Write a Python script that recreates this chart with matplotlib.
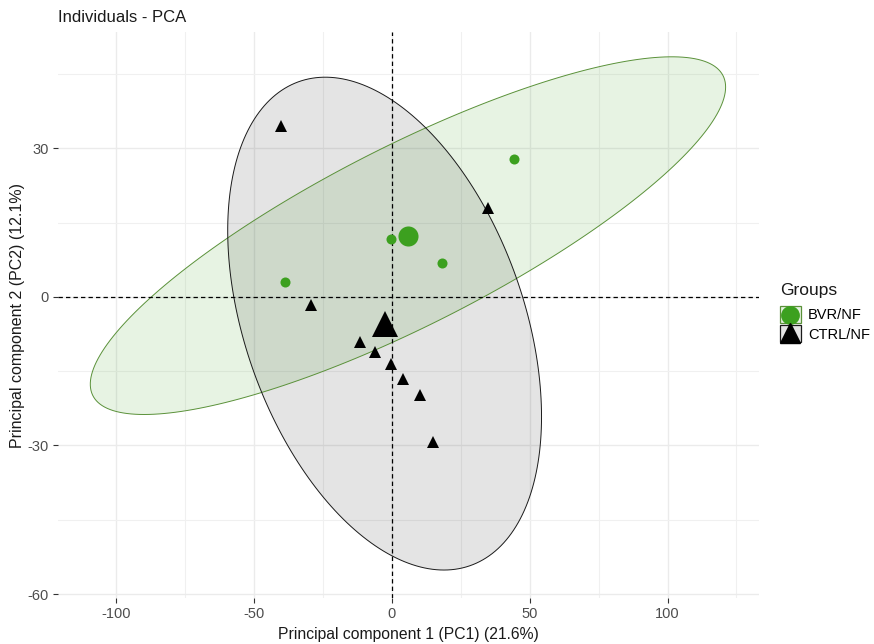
import numpy as np
import matplotlib
matplotlib.use("Agg")
import matplotlib.pyplot as plt
from matplotlib.patches import Polygon, Rectangle
from matplotlib.lines import Line2D
from matplotlib.legend_handler import HandlerBase

plt.rcParams['font.family'] = ['Liberation Sans', 'DejaVu Sans']
plt.rcParams['axes.unicode_minus'] = False

# PCA scores per group
bvr_pc1 = [44.3, -0.4, 18.1, -38.8]
bvr_pc2 = [27.9, 11.7, 6.9, 3.0]
ctrl_pc1 = [-40.3, 34.8, -29.4, -11.6, -6.2, -0.4, 4.0, 10.2, 14.9]
ctrl_pc2 = [34.5, 18.0, -1.6, -9.1, -11.1, -13.5, -16.6, -19.8, -29.3]

groups = ['BVR/NF', 'CTRL/NF']
colors = ['#3ca01f', '#000000']
edge_colors = ['#5a9139', '#1a1a1a']
markers = ['o', '^']
ellipse_scale = [3.3, 2.5]

x_ticks = [-100, -50, 0, 50, 100]
x_minor = [-75, -25, 25, 75, 125]
y_ticks = [-60, -30, 0, 30]
y_minor = [-45, -15, 15, 45]
x_lim = (-121.2, 133.2)
y_lim = (-60.8, 53.5)


def ellipse_points(x, y, scale, n=240):
    x = np.asarray(x); y = np.asarray(y)
    cov = np.cov(np.vstack([x, y]))
    chol = np.linalg.cholesky(cov)
    t = np.linspace(0, 2 * np.pi, n)
    pts = chol @ (np.vstack([np.cos(t), np.sin(t)]) * scale)
    return np.column_stack([pts[0] + x.mean(), pts[1] + y.mean()])


class BoxMarkerHandler(HandlerBase):
    # square key filled like the ellipse, with the group marker on top
    def create_artists(self, legend, orig_handle, xdescent, ydescent,
                       width, height, fontsize, trans):
        box, mark = orig_handle
        r = Rectangle((-xdescent, -ydescent), width, height,
                      facecolor=box.get_facecolor(), edgecolor=box.get_edgecolor(),
                      lw=0.9, transform=trans)
        m = Line2D([-xdescent + width / 2], [-ydescent + height / 2 + mark.get_ydata()[0]],
                   marker=mark.get_marker(), color=mark.get_color(),
                   markersize=mark.get_markersize(), linestyle='none', transform=trans)
        return [r, m]


fig = plt.figure(figsize=(8.74, 6.44), dpi=100)
ax = fig.add_axes([58 / 874, 1 - 598 / 644, 701 / 874, 566 / 644])

data = [(bvr_pc1, bvr_pc2), (ctrl_pc1, ctrl_pc2)]
handles = []
for (px, py), col, ecol, mk, sc in zip(data, colors, edge_colors, markers, ellipse_scale):
    ell = ellipse_points(px, py, sc)
    alpha = 0.12 if mk == 'o' else 0.105
    ax.add_patch(Polygon(ell, closed=True, facecolor=col, alpha=alpha,
                         edgecolor='none', zorder=2))
    ax.add_patch(Polygon(ell, closed=True, facecolor='none', edgecolor=ecol,
                         lw=0.7, zorder=3))
    size = 8.5 if mk == 'o' else 11.5
    ax.plot(px, py, marker=mk, markersize=size * (0.85 if mk == 'o' else 0.8),
            color=col, linestyle='none', markeredgewidth=0, zorder=4)
    # group mean
    ax.plot([np.mean(px)], [np.mean(py)], marker=mk,
            markersize=size * (1.7 if mk == 'o' else 1.6),
            color=col, linestyle='none', markeredgewidth=0, zorder=4)
    face = matplotlib.colors.to_rgba(col, alpha)
    box = Rectangle((0, 0), 1, 1, facecolor=face, edgecolor=ecol)
    offset = 0 if mk == 'o' else 0.5
    mark = Line2D([offset], [offset], marker=mk, color=col,
                  markersize=12.5 if mk == 'o' else 15, linestyle='none')
    handles.append((box, mark))

ax.axhline(0, color='black', lw=0.9, ls=(0, (3.5, 2.5)), zorder=3.5)
ax.axvline(0, color='black', lw=0.9, ls=(0, (3.5, 2.5)), zorder=3.5)

ax.set_xticks(x_ticks)
ax.set_yticks(y_ticks)
ax.set_xticks(x_minor, minor=True)
ax.set_yticks(y_minor, minor=True)
ax.set_xlim(*x_lim)
ax.set_ylim(*y_lim)
ax.grid(True, which='major', color='#ebebeb', lw=1.0, zorder=0)
ax.grid(True, which='minor', color='#f0f0f0', lw=0.8, zorder=0)
ax.set_axisbelow(True)
for s in ax.spines.values():
    s.set_visible(False)
ax.tick_params(which='major', length=3.5, width=0.8, color='#333333',
               labelcolor='#4d4d4d', labelsize=10.5, pad=3)
ax.tick_params(which='minor', length=0)

ax.set_xlabel('Principal component 1 (PC1) (21.6%)', fontsize=11.3, color='#1a1a1a', labelpad=4)
ax.set_ylabel('Principal component 2 (PC2) (12.1%)', fontsize=11.5, color='#1a1a1a', labelpad=2)
ax.set_title('Individuals - PCA', loc='left', fontsize=12, color='#1a1a1a', pad=7)

fig.text(780 / 874, 1 - 291 / 644, 'Groups', fontsize=12.5, color='#1a1a1a',
         ha='left', va='center')
ax.legend(handles, groups, handler_map={tuple: BoxMarkerHandler()},
          loc='upper left', bbox_to_anchor=(779.5 / 874, 1 - 306 / 644),
          bbox_transform=fig.transFigure, frameon=False, fontsize=10.5,
          handlelength=1.45, handleheight=1.45,
          handletextpad=0.5, labelspacing=0.12, borderaxespad=0,
          borderpad=0)

fig.savefig('out.png', dpi=100)
